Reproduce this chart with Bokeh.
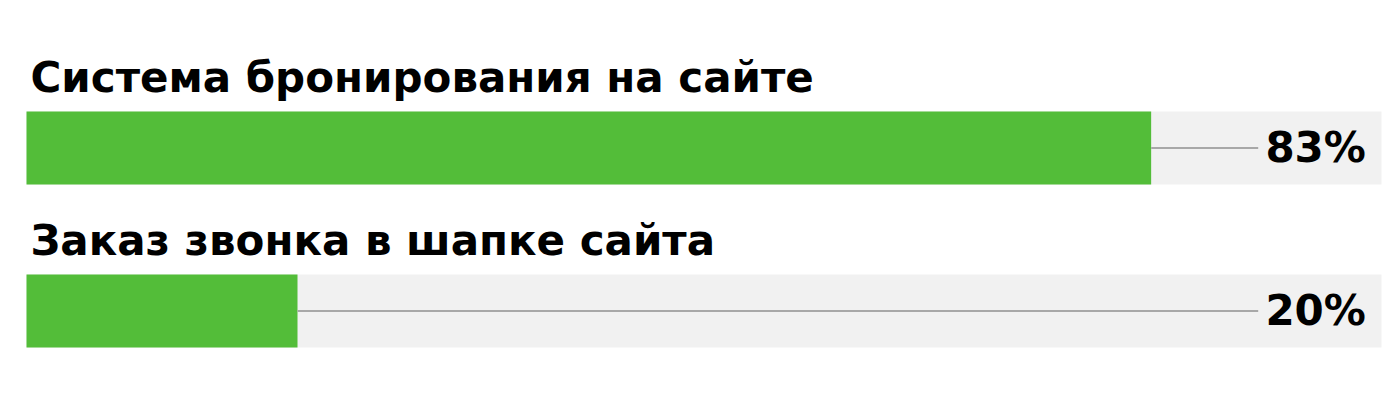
from bokeh.plotting import figure
from bokeh.models import Range1d, ColumnDataSource
from bokeh.core.properties import value
from bokeh.embed import file_html
from bokeh.resources import INLINE

categories = ["Система бронирования на сайте", "Заказ звонка в шапке сайта"]
values = [83, 20]
value_labels = ["83%", "20%"]

GREEN = "#53bd39"
TRACK = "#f1f1f1"
LINE = "#a8a8a8"
FONT = "DejaVu Sans"

rows = list(range(len(categories)))
src = ColumnDataSource(dict(
    row=rows,
    cat=categories,
    val=values,
    lab=value_labels,
    full=[100] * len(rows),
    zero=[0] * len(rows),
    line_end=[90.9] * len(rows),
    lab_x=[98.85] * len(rows),
))

W, H = 1383, 394
px_per_unit_x = 13.55
x0 = -26 / px_per_unit_x
row_px = 163.0
center0 = 147.5

p = figure(width=W, height=H, output_backend="svg", toolbar_location=None,
           x_range=Range1d(x0, x0 + W / px_per_unit_x),
           y_range=Range1d((H - center0) / row_px, -center0 / row_px),
           min_border=0, outline_line_color=None, background_fill_color="white")
p.axis.visible = False
p.grid.visible = False

bh = 73 / row_px
p.hbar(y="row", left="zero", right="full", height=bh, source=src,
       fill_color=TRACK, line_color=None)
p.hbar(y="row", left="zero", right="val", height=bh, source=src,
       fill_color=GREEN, line_color=None)
p.segment(x0="val", y0="row", x1="line_end", y1="row", source=src,
          line_color=LINE, line_width=2)

p.text(x="zero", y="row", text="cat", source=src, x_offset=4, y_offset=-70.5,
       text_font=value(FONT), text_font_style="bold", text_font_size="42px",
       text_color="black", text_align="left", text_baseline="alphabetic")
p.text(x="lab_x", y="row", text="lab", source=src, y_offset=-1,
       text_font=value(FONT), text_font_style="bold", text_font_size="42px",
       text_color="black", text_align="right", text_baseline="alphabetic")

open("out.html", "w").write(file_html(p, INLINE))
